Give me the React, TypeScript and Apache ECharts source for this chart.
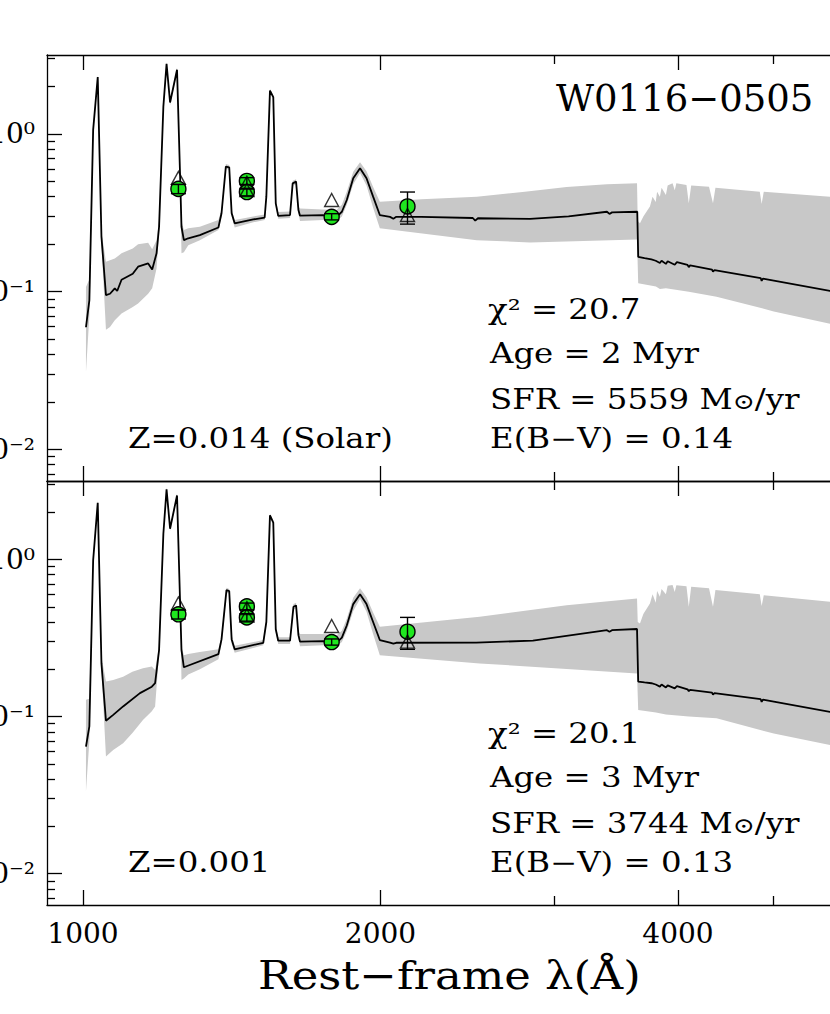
import React, { useEffect, useRef } from "react";
import * as echarts from "echarts";

// ---------------- data ----------------
const X_MIN = 919.6;
const X_MAX = 6000;
const Y_MIN = 0.00631;
const Y_MAX = 3.162;

const xMajorTicks = [1000, 2000, 4000];
const xMinorTicks = [3000, 5000];
const yMajorTicks = [0.01, 0.1, 1];
const yMajorLabels = ["10⁻²", "10⁻¹", "10⁰"];
const yMinorTicks = [
  0.007, 0.008, 0.009, 0.02, 0.03, 0.04, 0.05, 0.06, 0.07, 0.08, 0.09,
  0.2, 0.3, 0.4, 0.5, 0.6, 0.7, 0.8, 0.9, 2, 3,
];

// model spectrum, Z=0.014 (top panel)
const topLine = [
  [1007, 0.0595], [1015, 0.088], [1024, 1.06], [1035, 2.29], [1044, 0.223], [1055, 0.095],
  [1065, 0.097], [1077, 0.105], [1083, 0.101], [1094, 0.119], [1123, 0.13], [1137, 0.144],
  [1164, 0.151], [1175, 0.138], [1187, 0.175], [1194, 0.258], [1206, 1.49], [1215, 2.78],
  [1225, 1.58], [1245, 2.55], [1254, 0.536], [1258, 0.258], [1265, 0.212], [1278, 0.218],
  [1313, 0.228], [1371, 0.255], [1381, 0.314], [1395, 0.62], [1406, 0.614], [1414, 0.314],
  [1424, 0.271], [1487, 0.287], [1527, 0.295], [1533, 0.4], [1546, 1.88], [1558, 1.71],
  [1567, 0.363], [1576, 0.302], [1620, 0.306], [1630, 0.486], [1643, 0.498], [1652, 0.329],
  [1658, 0.303], [1749, 0.306], [1806, 0.298], [1828, 0.321], [1849, 0.381], [1877, 0.523],
  [1907, 0.605], [1936, 0.523], [1966, 0.4], [1997, 0.306], [2045, 0.298], [2061, 0.29],
  [2075, 0.298], [2200, 0.298], [2480, 0.293], [2494, 0.282], [2510, 0.292], [2834, 0.289],
  [3100, 0.3], [3390, 0.321], [3410, 0.311], [3430, 0.318], [3638, 0.321], [3646, 0.166],
  [3700, 0.163], [3760, 0.16], [3798, 0.157], [3835, 0.152], [3850, 0.157], [3889, 0.15],
  [3905, 0.156], [3970, 0.148], [3990, 0.154], [4090, 0.148], [4102, 0.143], [4115, 0.147],
  [4330, 0.138], [4340, 0.134], [4355, 0.137], [4850, 0.122], [4861, 0.117], [4875, 0.121],
  [5700, 0.101], [6000, 0.096],
];
const topUpper = [
  [1007, 0.107], [1015, 0.12], [1024, 1.1], [1035, 2.36], [1044, 0.24], [1055, 0.155],
  [1065, 0.158], [1077, 0.162], [1094, 0.175], [1123, 0.188], [1137, 0.2], [1164, 0.204],
  [1175, 0.186], [1187, 0.212], [1194, 0.28], [1206, 1.55], [1215, 2.86], [1225, 1.63],
  [1245, 2.63], [1254, 0.56], [1258, 0.28], [1265, 0.246], [1278, 0.252], [1313, 0.258],
  [1371, 0.285], [1381, 0.33], [1395, 0.645], [1406, 0.635], [1414, 0.33], [1424, 0.285],
  [1487, 0.3], [1527, 0.308], [1533, 0.415], [1546, 1.93], [1558, 1.76], [1567, 0.378],
  [1576, 0.32], [1620, 0.322], [1630, 0.505], [1643, 0.515], [1652, 0.345], [1658, 0.337],
  [1749, 0.332], [1806, 0.33], [1828, 0.355], [1849, 0.43], [1877, 0.575], [1907, 0.66],
  [1936, 0.58], [1966, 0.46], [1997, 0.372], [2200, 0.385], [2503, 0.4], [2800, 0.43],
  [3086, 0.46], [3390, 0.48], [3636, 0.487], [3642, 0.28], [3661, 0.271], [3690, 0.3],
  [3747, 0.346], [3770, 0.4], [3798, 0.37], [3810, 0.43], [3835, 0.4], [3850, 0.455],
  [3889, 0.41], [3905, 0.47], [3950, 0.486], [3970, 0.44], [3985, 0.486], [4080, 0.475],
  [4102, 0.363], [4125, 0.47], [4300, 0.463], [4340, 0.363], [4365, 0.455], [4840, 0.43],
  [4861, 0.36], [4885, 0.43], [5700, 0.4], [6000, 0.39],
];
const topLower = [
  [1007, 0.031], [1015, 0.07], [1024, 1.0], [1035, 2.2], [1044, 0.2], [1055, 0.0573],
  [1065, 0.0597], [1077, 0.066], [1094, 0.0726], [1123, 0.08], [1137, 0.084], [1164, 0.097],
  [1175, 0.105], [1187, 0.14], [1194, 0.24], [1206, 1.43], [1215, 2.7], [1225, 1.52],
  [1245, 2.47], [1254, 0.5], [1258, 0.175], [1265, 0.178], [1278, 0.197], [1313, 0.212],
  [1371, 0.246], [1381, 0.3], [1395, 0.6], [1406, 0.595], [1414, 0.3], [1424, 0.255],
  [1487, 0.275], [1527, 0.285], [1533, 0.385], [1546, 1.83], [1558, 1.66], [1567, 0.35],
  [1576, 0.29], [1620, 0.293], [1630, 0.47], [1643, 0.48], [1652, 0.315], [1658, 0.28],
  [1749, 0.285], [1806, 0.28], [1828, 0.3], [1849, 0.355], [1877, 0.48], [1907, 0.565],
  [1936, 0.47], [1966, 0.34], [1997, 0.252], [2503, 0.212], [2834, 0.205], [3636, 0.214],
  [3646, 0.113], [3800, 0.108], [3835, 0.104], [3889, 0.105], [4102, 0.1], [4376, 0.093],
  [5000, 0.075], [5700, 0.0627], [6000, 0.06],
];

// model spectrum, Z=0.001 (bottom panel)
const botLine = [
  [1007, 0.0644], [1015, 0.0866], [1024, 0.99], [1035, 2.3], [1044, 0.218], [1055, 0.094],
  [1073, 0.1025], [1098, 0.116], [1142, 0.141], [1174, 0.155], [1183, 0.163], [1194, 0.265],
  [1206, 1.46], [1215, 2.8], [1225, 1.57], [1245, 2.56], [1254, 0.525], [1258, 0.265],
  [1265, 0.206], [1371, 0.25], [1381, 0.31], [1397, 0.638], [1406, 0.63], [1414, 0.31],
  [1424, 0.268], [1522, 0.295], [1533, 0.4], [1546, 1.91], [1558, 1.72], [1567, 0.36],
  [1576, 0.304], [1620, 0.304], [1633, 0.5], [1643, 0.51], [1652, 0.33], [1658, 0.3],
  [1749, 0.302], [1806, 0.296], [1828, 0.318], [1849, 0.38], [1877, 0.52], [1907, 0.6],
  [1936, 0.52], [1966, 0.4], [1997, 0.307], [2045, 0.296], [2061, 0.291], [2075, 0.295],
  [2500, 0.296], [2853, 0.304], [3390, 0.355], [3410, 0.347], [3430, 0.355], [3636, 0.361],
  [3646, 0.167], [3700, 0.165], [3760, 0.163], [3798, 0.16], [3835, 0.155], [3850, 0.16],
  [3889, 0.153], [3905, 0.158], [3970, 0.151], [3990, 0.156], [4090, 0.149], [4102, 0.145],
  [4115, 0.148], [4330, 0.142], [4340, 0.138], [4355, 0.141], [4850, 0.129], [4861, 0.124],
  [4875, 0.128], [5700, 0.107], [6000, 0.103],
];
const botUpper = [
  [1007, 0.128], [1015, 0.13], [1024, 1.05], [1035, 2.38], [1044, 0.24], [1055, 0.167],
  [1073, 0.171], [1098, 0.179], [1122, 0.193], [1150, 0.203], [1174, 0.208], [1183, 0.198],
  [1194, 0.28], [1206, 1.52], [1215, 2.88], [1225, 1.62], [1245, 2.64], [1254, 0.55],
  [1258, 0.28], [1265, 0.246], [1278, 0.25], [1313, 0.258], [1371, 0.268], [1381, 0.33],
  [1397, 0.66], [1406, 0.65], [1414, 0.33], [1424, 0.282], [1522, 0.307], [1533, 0.415],
  [1546, 1.96], [1558, 1.77], [1567, 0.378], [1576, 0.32], [1620, 0.32], [1633, 0.52],
  [1643, 0.53], [1652, 0.347], [1658, 0.335], [1749, 0.335], [1806, 0.33], [1828, 0.352],
  [1849, 0.42], [1877, 0.57], [1907, 0.655], [1936, 0.575], [1966, 0.46], [1997, 0.373],
  [2520, 0.432], [3086, 0.512], [3636, 0.565], [3642, 0.4], [3661, 0.392], [3690, 0.45],
  [3747, 0.525], [3770, 0.6], [3798, 0.53], [3810, 0.63], [3835, 0.58], [3850, 0.65],
  [3889, 0.6], [3905, 0.68], [3950, 0.687], [3970, 0.62], [3985, 0.685], [4080, 0.675],
  [4102, 0.5], [4125, 0.67], [4300, 0.655], [4340, 0.5], [4365, 0.64], [4840, 0.6],
  [4861, 0.505], [4885, 0.593], [5700, 0.538], [6000, 0.525],
];
const botLower = [
  [1007, 0.0334], [1015, 0.07], [1024, 0.95], [1035, 2.22], [1044, 0.2], [1055, 0.0556],
  [1073, 0.0612], [1098, 0.0676], [1122, 0.0785], [1150, 0.0952], [1174, 0.108], [1183, 0.116],
  [1194, 0.25], [1206, 1.42], [1215, 2.72], [1225, 1.52], [1245, 2.49], [1254, 0.5],
  [1258, 0.171], [1265, 0.175], [1278, 0.185], [1313, 0.2], [1371, 0.232], [1381, 0.29],
  [1397, 0.61], [1406, 0.61], [1414, 0.29], [1424, 0.255], [1522, 0.284], [1533, 0.38],
  [1546, 1.86], [1558, 1.68], [1567, 0.345], [1576, 0.29], [1620, 0.29], [1633, 0.48],
  [1643, 0.49], [1652, 0.315], [1658, 0.28], [1749, 0.285], [1806, 0.28], [1828, 0.298],
  [1849, 0.35], [1877, 0.47], [1907, 0.56], [1936, 0.465], [1966, 0.335], [1997, 0.246],
  [2520, 0.218], [3636, 0.188], [3646, 0.11], [3800, 0.106], [3889, 0.103], [4102, 0.1],
  [4376, 0.0975], [5000, 0.078], [5700, 0.066], [6000, 0.063],
];

// observed photometry: [lambda, flux, low, high]
const obsPhot = [
  [1249, 0.448, 0.418, 0.478],
  [1465, 0.503, 0.478, 0.528],
  [1465, 0.428, 0.405, 0.452],
  [1785, 0.298, 0.285, 0.312],
  [2130, 0.347, 0.268, 0.428],
];
// model photometry (open triangles)
const topModelPhot = [[1249, 0.526], [1465, 0.49], [1465, 0.44], [1785, 0.381], [2130, 0.306]];
const botModelPhot = [[1249, 0.525], [1465, 0.49], [1465, 0.44], [1785, 0.377], [2130, 0.3]];

const objectName = "W0116−0505";
const topStats = ["χ² = 20.7", "Age = 2 Myr", "SFR = 5559 M{s|⊙}/yr", "E(B−V) = 0.14"];
const botStats = ["χ² = 20.1", "Age = 3 Myr", "SFR = 3744 M{s|⊙}/yr", "E(B−V) = 0.13"];
const topMetal = "Z=0.014 (Solar)";
const botMetal = "Z=0.001";
const xTitle = "Rest−frame λ(Å)";

// ---------------- chart ----------------
const FONT = "'DejaVu Serif', 'Liberation Serif', serif";
const AX = { color: "#000", width: 1.3 };

function makeX(grid: number, position: string, ticks: number[], len: number, showLabel: boolean, showLine: boolean) {
  return {
    type: "log",
    gridIndex: grid,
    position,
    min: X_MIN,
    max: X_MAX,
    axisLine: { show: showLine, onZero: false, lineStyle: AX },
    axisTick: { show: true, inside: true, length: len, customValues: ticks, lineStyle: AX },
    axisLabel: {
      show: showLabel,
      customValues: xMajorTicks,
      margin: 14,
      fontFamily: FONT,
      fontSize: 28,
      color: "#000",
      formatter: (v: number) => String(Math.round(v)),
    },
    splitLine: { show: false },
    minorTick: { show: false },
    minorSplitLine: { show: false },
  };
}

function makeY(grid: number, ticks: number[], len: number, showLabel: boolean, showLine: boolean) {
  return {
    type: "log",
    gridIndex: grid,
    position: "left",
    min: Y_MIN,
    max: Y_MAX,
    axisLine: { show: showLine, onZero: false, lineStyle: AX },
    axisTick: { show: true, inside: true, length: len, customValues: ticks, lineStyle: AX },
    axisLabel: {
      show: showLabel,
      customValues: yMajorTicks,
      margin: 12,
      fontFamily: FONT,
      fontSize: 28,
      color: "#000",
      formatter: (v: number) => {
        let best = 0;
        yMajorTicks.forEach((t, i) => {
          if (Math.abs(Math.log10(t) - Math.log10(v)) < Math.abs(Math.log10(yMajorTicks[best]) - Math.log10(v))) best = i;
        });
        return yMajorLabels[best];
      },
    },
    splitLine: { show: false },
    minorTick: { show: false },
    minorSplitLine: { show: false },
  };
}

function panelSeries(xi: number, yi: number, line: number[][], upper: number[][], lower: number[][], model: number[][]) {
  return [
    {
      type: "custom",
      xAxisIndex: xi,
      yAxisIndex: yi,
      silent: true,
      clip: true,
      z: 1,
      data: [upper[0]],
      renderItem: (_p: any, api: any) => {
        const pts = upper.map((d) => api.coord(d)).concat(lower.slice().reverse().map((d) => api.coord(d)));
        return { type: "polygon", shape: { points: pts }, style: { fill: "#c8c8c8", stroke: null } };
      },
    },
    {
      type: "line",
      xAxisIndex: xi,
      yAxisIndex: yi,
      data: line,
      symbol: "none",
      showSymbol: false,
      clip: true,
      z: 3,
      lineStyle: { color: "#000", width: 1.8 },
    },
    {
      type: "scatter",
      xAxisIndex: xi,
      yAxisIndex: yi,
      data: obsPhot.map((d) => [d[0], d[1]]),
      symbol: "circle",
      symbolSize: 15,
      z: 4,
      itemStyle: { color: "#1fe61f", borderColor: "#000", borderWidth: 1.4, opacity: 1 },
    },
    {
      type: "custom",
      xAxisIndex: xi,
      yAxisIndex: yi,
      z: 5,
      silent: true,
      data: obsPhot,
      encode: { x: 0, y: 1 },
      renderItem: (_p: any, api: any) => {
        const x = api.value(0);
        const lo = api.coord([x, api.value(2)]);
        const hi = api.coord([x, api.value(3)]);
        const w = 7.5;
        const st = { stroke: "#000", lineWidth: 1.4 };
        return {
          type: "group",
          children: [
            { type: "line", shape: { x1: lo[0], y1: lo[1], x2: hi[0], y2: hi[1] }, style: st },
            { type: "line", shape: { x1: lo[0] - w, y1: lo[1], x2: lo[0] + w, y2: lo[1] }, style: st },
            { type: "line", shape: { x1: hi[0] - w, y1: hi[1], x2: hi[0] + w, y2: hi[1] }, style: st },
          ],
        };
      },
    },
    {
      type: "scatter",
      xAxisIndex: xi,
      yAxisIndex: yi,
      data: model,
      symbol: "triangle",
      symbolSize: [14, 13],
      z: 6,
      itemStyle: { color: "rgba(255,255,255,0)", borderColor: "#000", borderWidth: 1.4 },
    },
  ];
}

function txt(text: string, x: number, y: number, size: number, sx: number) {
  return {
    type: "text",
    x,
    y,
    scaleX: sx,
    z: 20,
    silent: true,
    style: {
      text,
      fontSize: size,
      fontFamily: FONT,
      fill: "#000",
      textAlign: "left",
      textVerticalAlign: "middle",
      align: "left",
      verticalAlign: "middle",
      rich: {
        s: { fontSize: 22, fontFamily: FONT, fill: "#000", verticalAlign: "bottom" },
      },
    },
  };
}

export default function App() {
  const ref = useRef<HTMLDivElement>(null);
  useEffect(() => {
    if (!ref.current) return;
    const chart = echarts.init(ref.current, undefined, { renderer: "svg" });
    const statsY = [309, 353, 399, 438];
    const graphic: any[] = [txt(objectName, 556, 98.5, 37, 1.0)];
    topStats.forEach((s, i) => graphic.push(txt(s, i === 0 ? 488 : 490, statsY[i], 27, 1.2)));
    botStats.forEach((s, i) => graphic.push(txt(s, i === 0 ? 488 : 490, statsY[i] + 424, 27, 1.2)));
    graphic.push(txt(topMetal, 128, 438, 27, 1.2));
    graphic.push(txt(botMetal, 128, 862, 27, 1.2));
    graphic.push(txt(xTitle, 258, 976, 39, 1.15));

    chart.setOption({
      animation: false,
      backgroundColor: "#fff",
      grid: [
        { left: 47, right: -22, top: 55, height: 426, containLabel: false, outerBoundsMode: "none" },
        { left: 47, right: -22, top: 481, height: 424, containLabel: false, outerBoundsMode: "none" },
      ],
      xAxis: [
        makeX(0, "bottom", xMajorTicks, 15, false, true),
        makeX(0, "bottom", xMinorTicks, 9, false, false),
        makeX(0, "top", xMajorTicks, 15, false, true),
        makeX(0, "top", xMinorTicks, 9, false, false),
        makeX(1, "bottom", xMajorTicks, 15, true, true),
        makeX(1, "bottom", xMinorTicks, 9, false, false),
        makeX(1, "top", xMajorTicks, 15, false, true),
        makeX(1, "top", xMinorTicks, 9, false, false),
      ],
      yAxis: [
        makeY(0, yMajorTicks, 15, true, true),
        makeY(0, yMinorTicks, 8, false, false),
        makeY(1, yMajorTicks, 15, true, true),
        makeY(1, yMinorTicks, 8, false, false),
      ],
      series: [
        ...panelSeries(0, 0, topLine, topUpper, topLower, topModelPhot),
        ...panelSeries(4, 2, botLine, botUpper, botLower, botModelPhot),
      ],
      graphic,
    });
    return () => chart.dispose();
  }, []);
  return (
    <div
      ref={ref}
      style={{ position: "fixed", left: 0, top: 0, width: 830, height: 1014, background: "#fff" }}
    />
  );
}
